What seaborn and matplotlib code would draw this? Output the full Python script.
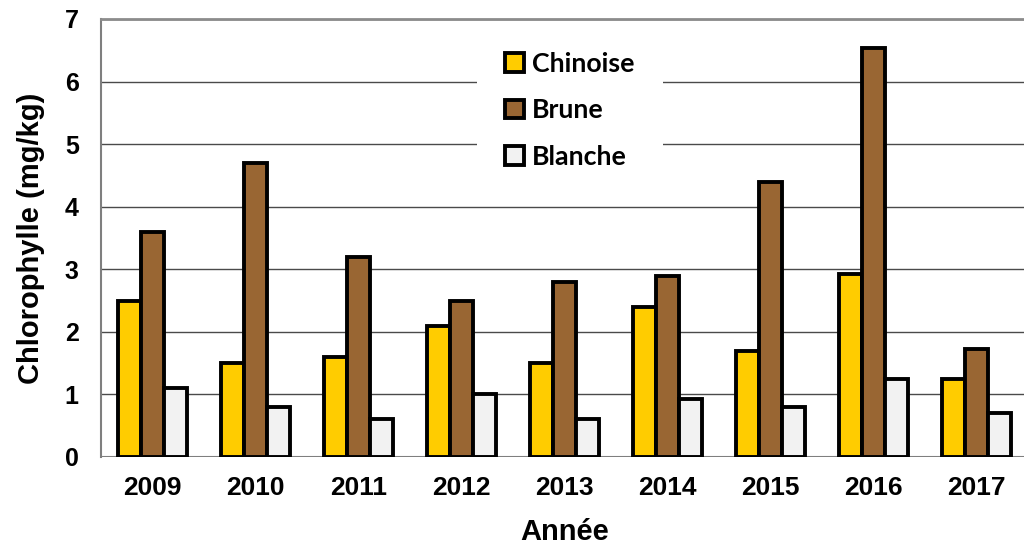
import matplotlib
matplotlib.use("Agg")
import matplotlib.pyplot as plt
import seaborn as sns
import pandas as pd
from matplotlib.ticker import MultipleLocator, FixedLocator

years = ["2009", "2010", "2011", "2012", "2013", "2014", "2015", "2016", "2017"]
chinoise = [2.5, 1.5, 1.6, 2.1, 1.5, 2.4, 1.7, 2.93, 1.24]
brune = [3.6, 4.7, 3.2, 2.5, 2.8, 2.9, 4.4, 6.53, 1.72]
blanche = [1.1, 0.8, 0.6, 1.0, 0.6, 0.93, 0.8, 1.25, 0.7]
series_names = ["Chinoise", "Brune", "Blanche"]
colors = ["#FFCC00", "#996633", "#F2F2F2"]

df = pd.DataFrame({
    "Année": years * 3,
    "val": chinoise + brune + blanche,
    "Type": [s for s in series_names for _ in years],
})

sns.set_style("white")
plt.rcParams["font.family"] = ["Liberation Sans", "DejaVu Sans"]
plt.rcParams["text.color"] = "black"
plt.rcParams["xtick.color"] = "black"
plt.rcParams["ytick.color"] = "black"
plt.rcParams["axes.labelcolor"] = "black"

fig = plt.figure(figsize=(10.24, 5.48), dpi=100)
ax = fig.add_axes([101 / 1024, (548 - 457) / 548, (1028 - 101) / 1024, (457 - 19) / 548])

sns.barplot(data=df, x="Année", y="val", hue="Type", order=years, hue_order=series_names,
            palette=colors, saturation=1, width=0.67, edgecolor="black", linewidth=2.8,
            ax=ax, zorder=3)

ax.set_xlim(-0.5, 8.5)
ax.set_ylim(0, 7)
ax.yaxis.set_major_locator(MultipleLocator(1))
ax.grid(axis="y", color="#4a4a4a", linewidth=1.0, zorder=0)
ax.set_axisbelow(True)

for s in ["right", "bottom"]:
    ax.spines[s].set_visible(False)
ax.spines["left"].set_color("#7f7f7f")
ax.spines["left"].set_linewidth(1.5)
ax.spines["top"].set_color("#8c8c8c")
ax.spines["top"].set_linewidth(2.0)
ax.axhline(0, color="#7f7f7f", linewidth=1.5, zorder=2)

ax.tick_params(axis="y", which="major", direction="out", length=6, width=1.2, color="#7f7f7f",
               labelcolor="black", pad=10, labelsize=18)
ax.tick_params(axis="x", which="major", length=0, pad=14, labelsize=19, labelcolor="black")
ax.xaxis.set_minor_locator(FixedLocator([i + 0.5 for i in range(-1, 9)]))
ax.tick_params(axis="x", which="minor", direction="out", length=6, width=1.2, color="#7f7f7f")
for lab in ax.get_xticklabels() + ax.get_yticklabels():
    lab.set_fontweight("bold")

ax.set_xlabel("Année", fontsize=21, fontweight="bold", labelpad=13, color="black")
ax.set_ylabel("Chlorophylle (mg/kg)", fontsize=21, fontweight="bold", labelpad=14, color="black")

handles, labels = ax.get_legend_handles_labels()
ax.get_legend().remove()
leg = fig.legend(handles, labels, loc="upper left", bbox_to_anchor=(477 / 1024, 1 - 24 / 548),
                 frameon=True, facecolor="white", edgecolor="none", framealpha=1,
                 fancybox=False, handlelength=0.7, handleheight=0.7, handletextpad=0.3,
                 labelspacing=0.83, borderpad=1.05, borderaxespad=0,
                 prop={"family": ["Lato", "DejaVu Sans"], "weight": "bold", "size": 19.3})
for h in leg.legend_handles:
    h.set_edgecolor("black")
    h.set_linewidth(2.8)
for t in leg.get_texts():
    t.set_color("black")

fig.savefig("out.png", dpi=100)
